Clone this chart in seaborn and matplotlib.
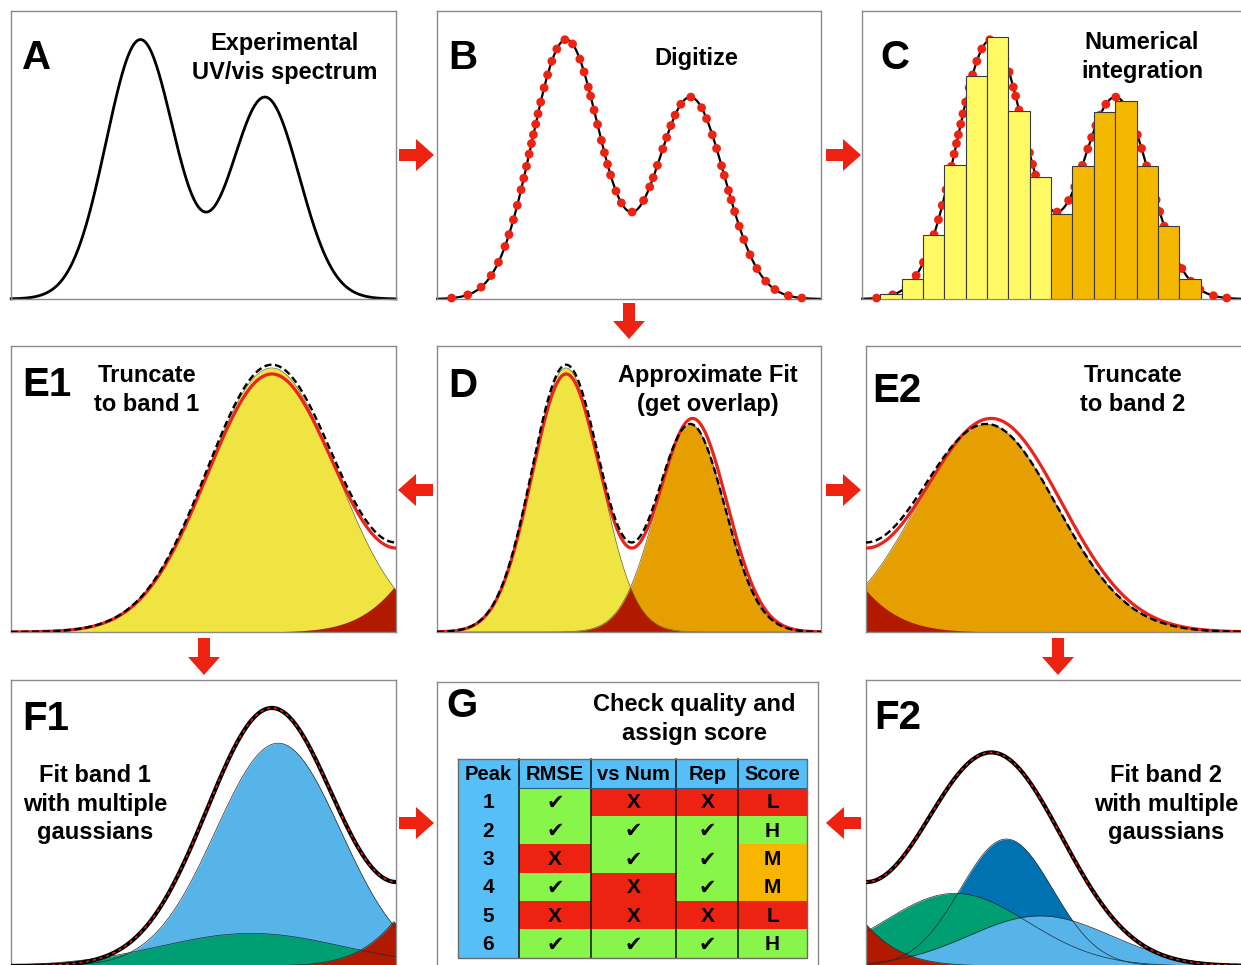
import numpy as np
import matplotlib
matplotlib.use("Agg")
import matplotlib.pyplot as plt
from matplotlib.patches import FancyArrow
from matplotlib.colors import ListedColormap
import seaborn as sns

W, H = 1241, 965
plt.rcParams['font.family'] = ['Liberation Sans', 'DejaVu Sans']

# ------------------------------------------------------------------ data
# experimental spectrum (two bands): centre, width, height
band_centers = [33.6, 66.0]
band_widths = [8.9, 8.9]
band_heights = [90.0, 70.0]

# approximate fit (red line)
fit_centers = [33.6, 66.6]
fit_widths = [8.9, 8.9]
fit_heights = [86.9, 71.9]

# fitted band components (yellow = band 1, orange = band 2)
comp_centers = [33.6, 66.0]
comp_widths = [8.9, 8.9]
comp_heights = [89.0, 70.0]

# digitized abscissae (panel B / C)
digitized_x = [3.8, 8.0, 11.5, 14.1, 16.0, 17.7, 18.75, 19.9, 20.9, 21.9, 22.6,
               23.3, 24.0, 24.6, 25.1, 25.7, 26.3, 27.0, 27.9, 28.8, 29.9, 31.2,
               33.3, 35.3, 37.2, 38.3, 39.4, 40.0, 40.9, 41.8, 42.8, 43.6, 44.4,
               45.2, 46.6, 48.0, 50.8, 53.8, 55.4, 56.3, 57.4, 58.8, 59.8, 60.9,
               62.0, 63.5, 66.1, 68.9, 70.2, 71.7, 72.8, 74.1, 74.8, 75.9, 76.6,
               77.5, 78.7, 79.9, 81.5, 83.3, 85.6, 88.0, 91.5, 95.0]

# numerical integration bins (panel C)
bin_heights = [1.85, 6.9, 22.3, 46.4, 77.3, 91.0, 65.2, 42.4,
               29.5, 46.1, 64.8, 68.9, 46.1, 25.5, 6.9]
n_band1_bins = 8

# multi-gaussian fits
f1_centers = [34.5, 30.8]          # light blue, green
f1_widths = [8.6, 12.5]
f1_heights = [75.1, 11.0]

f2_centers = [68.5, 62.0, 72.75]   # dark blue, green, light blue
f2_widths = [5.85, 9.2, 9.0]
f2_heights = [42.8, 24.5, 16.9]

# quality table
table_columns = ["Peak", "RMSE", "vs Num", "Rep", "Score"]
peak_ids = ["1", "2", "3", "4", "5", "6"]
rmse_ok = [True, True, False, True, False, True]
vsnum_ok = [False, True, True, False, False, True]
rep_ok = [False, True, True, True, False, True]
scores = ["L", "H", "M", "M", "L", "H"]

# ------------------------------------------------------------------ styles
RED = '#ee2211'
FITRED = '#e8241b'
YEL = '#f0e442'
ORG = '#e69f00'
DRED = '#b21a00'
LBLUE = '#56b4e9'
DBLUE = '#0072b2'
GREEN = '#009e73'
BAR_Y = '#fff964'
BAR_O = '#f5b800'
T_BLUE = '#56bff8'
T_GREEN = '#88f54b'
T_RED = '#ee2211'
T_ORG = '#f7b500'
SPINE = '#8a8a8a'


def gauss(x, c, s, h):
    return h * np.exp(-(x - c) ** 2 / (2.0 * s ** 2))


def multi(x, cs, ss, hs):
    return sum(gauss(x, c, s, h) for c, s, h in zip(cs, ss, hs))


fig = plt.figure(figsize=(W / 100, H / 100), dpi=100)
fig.patch.set_facecolor('white')


def panel(left, top, width, height, xlim, ylim):
    ax = fig.add_axes([left / W, 1 - (top + height) / H, width / W, height / H])
    ax.set_xlim(*xlim)
    ax.set_ylim(*ylim)
    ax.set_xticks([])
    ax.set_yticks([])
    for s in ax.spines.values():
        s.set_color(SPINE)
        s.set_linewidth(1.0)
    return ax


x = np.linspace(-5, 105, 1200)
spec = multi(x, band_centers, band_widths, band_heights)
fit = multi(x, fit_centers, fit_widths, fit_heights)
yel = gauss(x, comp_centers[0], comp_widths[0], comp_heights[0])
org = gauss(x, comp_centers[1], comp_widths[1], comp_heights[1])
overlap = np.minimum(yel, org)

# split point = minimum of spectrum between the two bands
mask = (x > band_centers[0]) & (x < band_centers[1])
split = x[mask][np.argmin(spec[mask])]
XL1 = (split - 52.9, split)
XL2 = (split, split + 48.7)
YL = (0, 96.4)

dig_x = np.array(digitized_x)
dig_y = multi(dig_x, band_centers, band_widths, band_heights)

# ---------------- A
axA = panel(11, 11, 385, 288, (0, 100), (0, 100))
sel = (x >= 0) & (x <= 100)
sns.lineplot(x=x[sel], y=spec[sel], ax=axA, color='black', linewidth=2.0,
             estimator=None, clip_on=False)

# ---------------- B
axB = panel(437, 11, 384, 288, (0, 100), (0, 100))
sns.lineplot(x=x[sel], y=spec[sel], ax=axB, color='black', linewidth=1.6,
             estimator=None, clip_on=False)
sns.scatterplot(x=dig_x, y=dig_y, ax=axB, color=RED, s=40, edgecolor='none',
                zorder=3, clip_on=False)

# ---------------- C
axC = panel(862, 11, 384, 288, (0, 100), (0, 100))
sns.lineplot(x=x[sel], y=spec[sel], ax=axC, color='black', linewidth=1.6,
             estimator=None, clip_on=False)
sns.scatterplot(x=dig_x, y=dig_y, ax=axC, color=RED, s=40, edgecolor='none',
                zorder=3, clip_on=False)
bw = 5.56
lefts = [4.77 + i * bw for i in range(len(bin_heights))]
cols = [BAR_Y if i < n_band1_bins else BAR_O for i in range(len(bin_heights))]
axC.bar(lefts, bin_heights, width=bw, align='edge', color=cols,
        edgecolor='#3a3a3a', linewidth=0.8, zorder=4)


def fills_bands(ax, show_y=True, show_o=True):
    if show_y:
        ax.fill_between(x, 0, yel, color=YEL, lw=0, zorder=1)
    if show_o:
        ax.fill_between(x, 0, org, color=ORG, lw=0, zorder=1)
    ax.fill_between(x, 0, overlap, color=DRED, lw=0, zorder=1.5)
    if show_y:
        ax.plot(x, yel, color='#6b6b3a', lw=0.5, zorder=2)
    if show_o:
        ax.plot(x, org, color='#6b5a20', lw=0.5, zorder=2)


def fit_and_data(ax):
    sns.lineplot(x=x, y=fit, ax=ax, color=FITRED, linewidth=2.3,
                 estimator=None, zorder=3)
    sns.lineplot(x=x, y=spec, ax=ax, color='black', linewidth=1.7,
                 linestyle=(0, (3, 1.5)), estimator=None, zorder=4)


# ---------------- D
axD = panel(437, 346, 384, 286, (0, 100), YL)
fills_bands(axD)
fit_and_data(axD)

# ---------------- E1
axE1 = panel(11, 346, 385, 286, XL1, YL)
fills_bands(axE1, show_o=False)
fit_and_data(axE1)

# ---------------- E2
axE2 = panel(866, 346, 384, 286, XL2, YL)
fills_bands(axE2, show_y=False)
fit_and_data(axE2)


def fit_line(ax):
    sns.lineplot(x=x, y=fit, ax=ax, color='black', linewidth=3.0,
                 estimator=None, zorder=5)
    sns.lineplot(x=x, y=fit, ax=ax, color=RED, linewidth=1.1,
                 linestyle=(0, (2, 2.5)), estimator=None, zorder=6)


def comp_fills(ax, cs, ss, hs, colors):
    curves = [gauss(x, c, s, h) for c, s, h in zip(cs, ss, hs)]
    for cv, col in zip(curves, colors):
        ax.fill_between(x, 0, cv, color=col, lw=0, zorder=1)
    ax.fill_between(x, 0, overlap, color=DRED, lw=0, zorder=1.5)
    for cv in curves + [overlap]:
        ax.plot(x, cv, color='#1e2a33', lw=0.5, zorder=2)


# ---------------- F1
axF1 = panel(11, 680, 385, 286, XL1, YL)
comp_fills(axF1, f1_centers, f1_widths, f1_heights, [LBLUE, GREEN])
fit_line(axF1)

# ---------------- F2
axF2 = panel(866, 680, 384, 286, XL2, YL)
comp_fills(axF2, f2_centers, f2_widths, f2_heights, [DBLUE, GREEN, LBLUE])
fit_line(axF2)

# ---------------- G (table)
axG = panel(437, 682, 381, 284, (0, 381), (284, 0))
col_edges = [20.7, 82.3, 154.0, 239.3, 301.3, 369.7]
row_edges = [77.0] + [105.7 + 28.33 * i for i in range(len(peak_ids) + 1)]
# colour codes: 0 blue, 1 green, 2 red, 3 orange
score_code = {"L": 2, "H": 1, "M": 3}
codes = [[0] * len(table_columns)]
for i in range(len(peak_ids)):
    codes.append([0,
                  1 if rmse_ok[i] else 2,
                  1 if vsnum_ok[i] else 2,
                  1 if rep_ok[i] else 2,
                  score_code[scores[i]]])
codes = np.array(codes)
axG.pcolormesh(col_edges, row_edges, codes,
               cmap=ListedColormap([T_BLUE, T_GREEN, T_RED, T_ORG]),
               vmin=-0.5, vmax=3.5, zorder=1)
for xe in col_edges[1:-1]:
    axG.plot([xe, xe], [row_edges[0], row_edges[-1]], color='#111111', lw=1.1, zorder=2)
axG.plot([col_edges[1], col_edges[-1]], [row_edges[1], row_edges[1]], color='#2a5f86', lw=0.8, zorder=2)
axG.plot([col_edges[0], col_edges[-1], col_edges[-1], col_edges[0], col_edges[0]],
         [row_edges[0], row_edges[0], row_edges[-1], row_edges[-1], row_edges[0]],
         color='#6a6a6a', lw=1.0, zorder=2)
xc = [(a + b) / 2 for a, b in zip(col_edges[:-1], col_edges[1:])]
for j, name in enumerate(table_columns):
    axG.text(xc[j], (row_edges[0] + row_edges[1]) / 2 + 1, name, ha='center', va='center',
             fontsize=14.5, fontweight='bold', zorder=3)


def mark(ok):
    return '\u2714' if ok else 'X'


for i in range(len(peak_ids)):
    yc = (row_edges[i + 1] + row_edges[i + 2]) / 2 + 1
    row = [peak_ids[i], mark(rmse_ok[i]), mark(vsnum_ok[i]), mark(rep_ok[i]), scores[i]]
    for j, s in enumerate(row):
        fam = ['DejaVu Sans'] if s == '\u2714' else ['Liberation Sans', 'DejaVu Sans']
        axG.text(xc[j], yc, s, ha='center', va='center', fontsize=15,
                 fontweight='bold', family=fam, zorder=3)

# ---------------- overlay: labels, captions, arrows
ov = fig.add_axes([0, 0, 1, 1])
ov.set_xlim(0, W)
ov.set_ylim(H, 0)
ov.axis('off')
ov.patch.set_alpha(0)
ov.set_zorder(10)

letters = [('A', 22, 58), ('B', 448, 58), ('C', 880, 58), ('E1', 22, 385),
           ('D', 448, 386), ('E2', 872, 391), ('F1', 22, 719), ('G', 446, 706),
           ('F2', 874, 718)]
for s, lx, ly in letters:
    ov.text(lx, ly, s, ha='left', va='center', fontsize=29, fontweight='bold')

captions = [("Experimental\nUV/vis spectrum", 285, 58),
            ("Digitize", 696, 58),
            ("Numerical\nintegration", 1142, 57),
            ("Truncate\nto band 1", 147, 390),
            ("Approximate Fit\n(get overlap)", 708, 390),
            ("Truncate\nto band 2", 1133, 390),
            ("Fit band 1\nwith multiple\ngaussians", 95, 804),
            ("Check quality and\nassign score", 694, 719),
            ("Fit band 2\nwith multiple\ngaussians", 1166, 804)]
for s, cx, cy in captions:
    ov.text(cx, cy, s, ha='center', va='center', fontsize=17, fontweight='bold',
            linespacing=1.32, multialignment='center')

arrows = [(399, 155, 35, 0), (826, 155, 35, 0), (629, 303, 0, 36),
          (433, 490, -35, 0), (826, 490, 35, 0), (204, 638, 0, 37),
          (1058, 638, 0, 37), (399, 823, 35, 0), (861, 823, -35, 0)]
for ax0, ay0, dx, dy in arrows:
    ov.add_patch(FancyArrow(ax0, ay0, dx, dy, width=12, head_width=32,
                            head_length=18, length_includes_head=True,
                            color=RED, lw=0))

fig.savefig('out.png', dpi=100, facecolor='white')
